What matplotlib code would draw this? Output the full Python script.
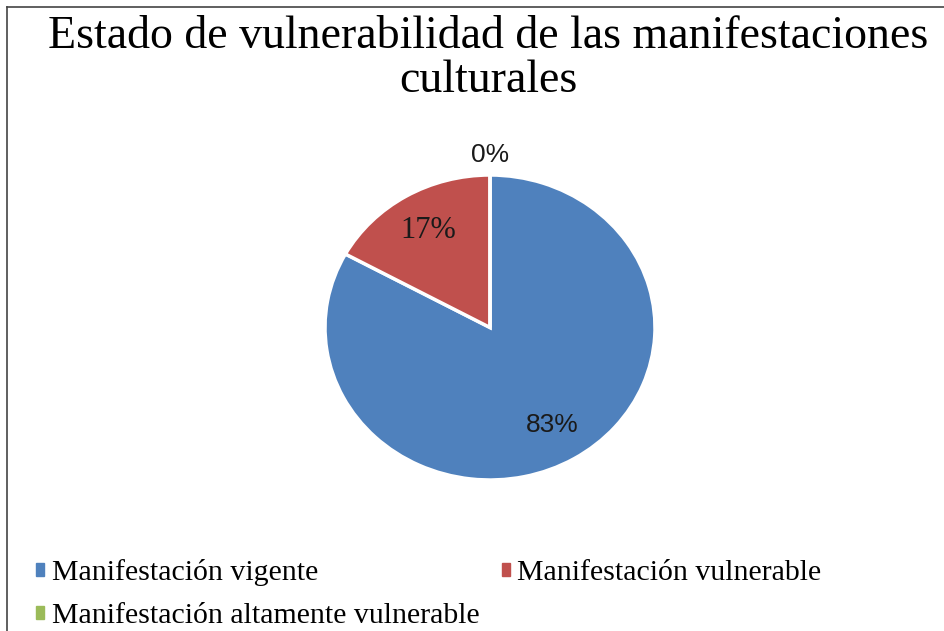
import numpy as np
import matplotlib.pyplot as plt
from matplotlib.patches import Patch
from matplotlib.lines import Line2D

# Data
categorias = ['Manifestación vigente', 'Manifestación vulnerable',
              'Manifestación altamente vulnerable']
valores = [83, 17, 0]
colores = ['#4F81BD', '#C0504D', '#9BBB59']
titulo = ['Estado de vulnerabilidad de las manifestaciones', 'culturales']

W, H = 945, 631
fig = plt.figure(figsize=(W / 100, H / 100), dpi=100)
serif = ['Liberation Serif', 'DejaVu Serif']
sans = ['Liberation Sans', 'DejaVu Sans']


def px(x, y):
    # pixel coords (top-left origin) -> figure fraction
    return x / W, 1 - y / H


# pie axes, slightly wider than tall like the reference
ax = fig.add_axes([325 / W, 1 - 480 / H, 330 / W, 305 / H])
wedges, _ = ax.pie(valores, colors=colores, startangle=90, counterclock=False,
                   wedgeprops=dict(edgecolor='white', linewidth=2.5))
ax.set_aspect('auto')
ax.set_xlim(-1, 1)
ax.set_ylim(-1, 1)
ax.axis('off')

# percentage labels
for w, v in zip(wedges, valores):
    ang = np.deg2rad((w.theta1 + w.theta2) / 2)
    r = 0.74 if v > 0 else 1.13
    if v == 17:
        fam, fs = serif, 22
    else:
        fam, fs = sans, 19
    ax.text(r * np.cos(ang), r * np.sin(ang), f'{v}%', ha='center', va='center',
            fontsize=fs, family=fam, color='#1a1a1a')

# title
fig.text(*px(488, 48), titulo[0], ha='center', va='baseline',
         fontsize=33, family=serif)
fig.text(*px(488, 92), titulo[1], ha='center', va='baseline',
         fontsize=33, family=serif)

# legend, row-wise order
handles = [Patch(color=c) for c in colores]
order = [0, 2, 1]
fig.legend([handles[i] for i in order], [categorias[i] for i in order],
           ncol=2, loc='upper left', bbox_to_anchor=px(36, 559), frameon=False,
           prop={'family': serif, 'size': 21.5}, handlelength=0.27,
           handleheight=0.27, handletextpad=0.25, columnspacing=0.75,
           labelspacing=0.58, borderpad=0, borderaxespad=0)

# frame lines (top and left only visible)
fig.add_artist(Line2D([7 / W, 1], [1 - 7 / H, 1 - 7 / H], color='#444444', lw=1.2))
fig.add_artist(Line2D([7 / W, 7 / W], [0, 1 - 7 / H], color='#444444', lw=1.2))

fig.savefig('out.png', dpi=100)
